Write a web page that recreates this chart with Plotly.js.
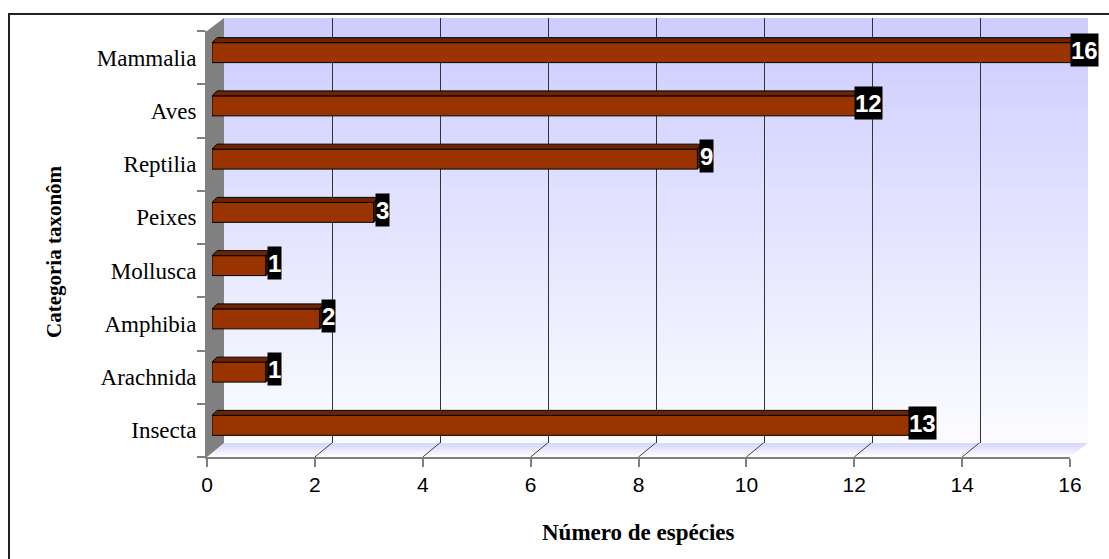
<!DOCTYPE html>
<html>
<head>
<meta charset="utf-8">
<script src="https://cdn.plot.ly/plotly-3.0.1.min.js"></script>
<style>html,body{margin:0;padding:0;background:#fff;}#chart{width:1109px;height:559px;}</style>
</head>
<body>
<div id="chart"></div>
<script>
// ---- data (bottom to top) ----
const categories = ['Insecta', 'Arachnida', 'Amphibia', 'Mollusca', 'Peixes', 'Reptilia', 'Aves', 'Mammalia'];
const species = [13, 1, 2, 1, 3, 9, 12, 16];
const xTickVals = [0, 2, 4, 6, 8, 10, 12, 14, 16];
const gridVals = [2, 4, 6, 8, 10, 12, 14];
const xTitle = 'Número de espécies';
const yTitle = 'Categoria taxonôm';

// ---- geometry helpers ----
const W = 1109, H = 559;
const px = x => x / W;
const py = y => 1 - y / H;
const frontL = 207, frontR = 1070, frontT = 31, frontB = 457;
const backL = 224, backR = 1088, backT = 18, backB = 443;
const unitPx = (frontR - frontL) / 16;
const catPx = (frontB - frontT) / 8;
const barDX = 5 / unitPx, barDY = 5 / catPx, halfW = 0.1875;
const barMax = 16.3;

const serif = 'Liberation Serif, Times New Roman, serif';
const sans = 'Liberation Sans, Arial, sans-serif';

const traces = [];
// dummy trace to build the category axis
traces.push({type: 'scatter', mode: 'markers', x: categories.map(() => 0), y: categories,
  marker: {opacity: 0}, hoverinfo: 'skip', showlegend: false, xaxis: 'x', yaxis: 'y'});
// dummy trace for the back-wall grid subplot
traces.push({type: 'scatter', mode: 'markers', x: [0], y: [0], marker: {opacity: 0},
  hoverinfo: 'skip', showlegend: false, xaxis: 'x2', yaxis: 'y2'});
// bars (front faces)
traces.push({type: 'bar', orientation: 'h', x: species, y: categories.map((c, i) => i),
  width: 0.375, marker: {color: '#993300', line: {color: '#000', width: 1}},
  hoverinfo: 'x', showlegend: false, xaxis: 'x3', yaxis: 'y3'});
// 3D faces
species.forEach((v, i) => {
  traces.push({type: 'scatter', mode: 'lines', fill: 'toself', fillcolor: '#6e2400',
    line: {color: '#000', width: 1}, hoverinfo: 'skip', showlegend: false,
    x: [0, v, v + barDX, barDX, 0],
    y: [i + halfW, i + halfW, i + halfW + barDY, i + halfW + barDY, i + halfW],
    xaxis: 'x3', yaxis: 'y3'});
  traces.push({type: 'scatter', mode: 'lines', fill: 'toself', fillcolor: '#5a1d00',
    line: {color: '#000', width: 1}, hoverinfo: 'skip', showlegend: false,
    x: [v, v + barDX, v + barDX, v, v],
    y: [i - halfW, i - halfW + barDY, i + halfW + barDY, i + halfW, i - halfW],
    xaxis: 'x3', yaxis: 'y3'});
});

// ---- decorative shapes ----
const shapes = [];
// back wall gradient
const N = 43;
for (let k = 0; k < N; k++) {
  const t = (k + 0.5) / N;
  const c = Math.round(204 + 48 * t);
  const y0 = backT + (backB - backT) * k / N, y1 = backT + (backB - backT) * (k + 1) / N + 0.6;
  shapes.push({type: 'rect', xref: 'paper', yref: 'paper', x0: px(backL), x1: px(backR),
    y0: py(y1), y1: py(y0), line: {width: 0}, fillcolor: `rgb(${c},${c},255)`, layer: 'below'});
}
// floor gradient (parallelogram strips)
const F = 7;
for (let k = 0; k < F; k++) {
  const a = k / F, b = (k + 1) / F;
  const t = (k + 0.5) / F;
  const c = Math.round(212 + 43 * t);
  const pt = s => [backL + (frontL - backL) * s, backR + (frontR - backR) * s, backB + (frontB - backB) * s];
  const [la, ra, ya] = pt(a), [lb, rb, yb] = pt(b + 0.02);
  shapes.push({type: 'path', xref: 'paper', yref: 'paper', layer: 'below', line: {width: 0},
    fillcolor: `rgb(${c},${c},255)`,
    path: `M${px(la)},${py(ya)} L${px(ra)},${py(ya)} L${px(rb)},${py(yb)} L${px(lb)},${py(yb)} Z`});
}
// left wall
shapes.push({type: 'path', xref: 'paper', yref: 'paper', layer: 'below', line: {width: 0},
  fillcolor: '#808080',
  path: `M${px(frontL)},${py(frontT)} L${px(backL)},${py(backT)} L${px(backL)},${py(backB)} L${px(frontL)},${py(frontB)} Z`});
// floor diagonal ticks
gridVals.forEach(v => {
  shapes.push({type: 'line', xref: 'x', xsizemode: 'pixel', xanchor: v, x0: 0, x1: backL - frontL,
    yref: 'paper', y0: py(frontB), y1: py(backB), line: {color: '#404040', width: 1}, layer: 'above'});
});
// outer border
shapes.push({type: 'rect', xref: 'paper', yref: 'paper', x0: px(9), x1: 1.05, y0: -0.05, y1: py(14),
  line: {color: '#222', width: 2}, fillcolor: 'rgba(0,0,0,0)', layer: 'above'});

// ---- annotations ----
const annotations = species.map((v, i) => ({
  xref: 'x3', yref: 'y3', x: v, y: i + 0.05, xanchor: 'center', yanchor: 'middle', xshift: 9,
  text: '<b>' + v + '</b>', showarrow: false, bgcolor: '#000', borderpad: 0, height: 32,
  font: {family: sans, size: 24, color: '#fff'}
}));
annotations.push({xref: 'paper', yref: 'paper', x: px(54), y: py(252), text: '<b>' + yTitle + '</b>',
  textangle: -90, showarrow: false, xanchor: 'center', yanchor: 'middle',
  font: {family: serif, size: 21, color: '#000'}});
annotations.push({xref: 'paper', yref: 'paper', x: px(638), y: py(532), text: '<b>' + xTitle + '</b>',
  showarrow: false, xanchor: 'center', yanchor: 'middle',
  font: {family: serif, size: 23, color: '#000'}});

const layout = {
  width: W, height: H, autosize: false,
  margin: {l: 0, r: 0, t: 0, b: 0, pad: 0},
  paper_bgcolor: '#fff', plot_bgcolor: 'rgba(0,0,0,0)',
  showlegend: false, bargap: 0,
  xaxis: {domain: [px(frontL), px(frontR)], range: [0, 16], tickvals: xTickVals, ticks: 'outside',
    ticklen: 8, tickwidth: 2, tickcolor: '#808080', showline: true, linecolor: '#808080', linewidth: 2,
    showgrid: false, zeroline: false, anchor: 'y', fixedrange: true,
    tickfont: {family: sans, size: 21, color: '#000'}},
  yaxis: {domain: [py(frontB), py(frontT)], type: 'category', categoryorder: 'array',
    categoryarray: categories, range: [-0.5, 7.5], tickson: 'boundaries', ticks: 'outside',
    ticklen: 8, tickwidth: 2, tickcolor: '#808080', showline: true, linecolor: '#808080', linewidth: 2,
    showgrid: false, zeroline: false, anchor: 'x', fixedrange: true, ticklabelstandoff: 4,
    tickfont: {family: serif, size: 23, color: '#000'}},
  xaxis2: {domain: [px(backL), px(backR)], range: [0, 16], tickvals: gridVals, showgrid: true,
    gridcolor: '#333', gridwidth: 1, showticklabels: false, ticks: '', showline: false,
    zeroline: false, anchor: 'y2', fixedrange: true},
  yaxis2: {domain: [py(backB), py(backT)], range: [0, 1], visible: false, anchor: 'x2', fixedrange: true},
  xaxis3: {domain: [px(frontL + 5), px(frontL + 5 + unitPx * barMax)], range: [0, barMax], visible: false,
    anchor: 'y3', fixedrange: true},
  yaxis3: {domain: [py(frontB - 5), py(frontT - 5)], range: [-0.5, 7.5], visible: false, anchor: 'x3',
    fixedrange: true},
  shapes: shapes,
  annotations: annotations
};

Plotly.newPlot('chart', traces, layout, {displayModeBar: false, staticPlot: true});
</script>
</body>
</html>
